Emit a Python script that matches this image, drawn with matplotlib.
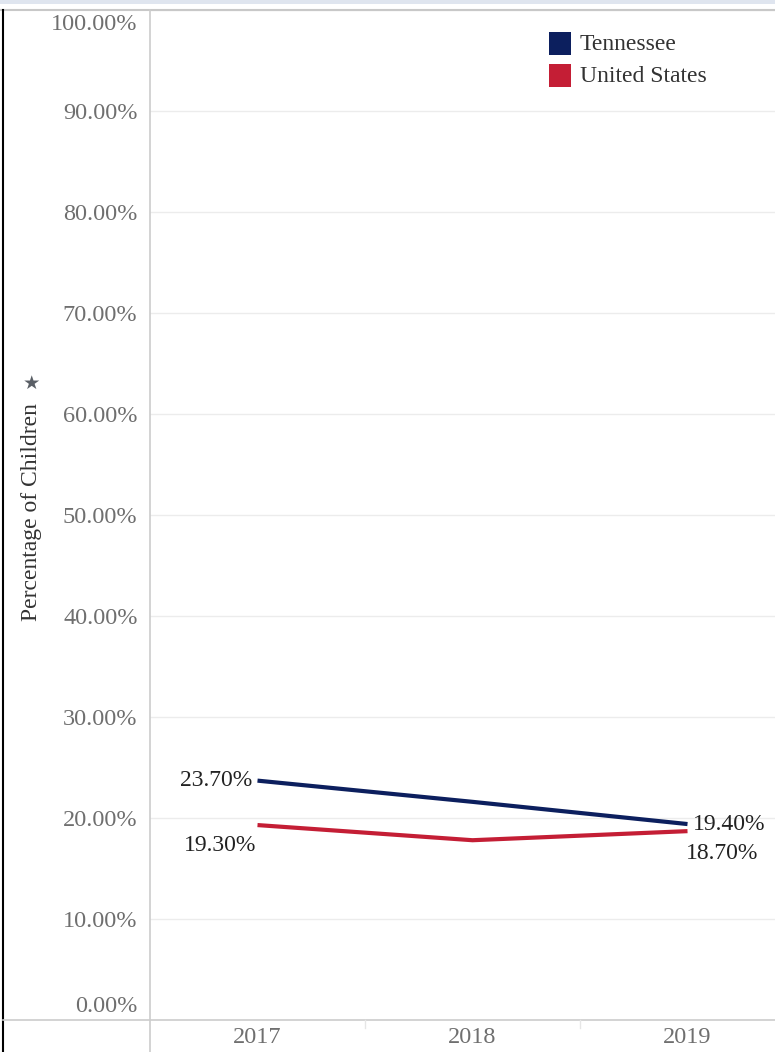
import matplotlib.pyplot as plt
from matplotlib.lines import Line2D
from matplotlib.patches import Rectangle
from matplotlib.transforms import ScaledTranslation
import numpy as np

years = ["2017", "2018", "2019"]
tennessee = [23.7, 21.6, 19.4]
united_states = [19.3, 17.8, 18.7]
ytick_vals = [0, 10, 20, 30, 40, 50, 60, 70, 80, 90, 100]

navy = "#0c1f5e"
red = "#c41e35"
grey_txt = "#6f6f6f"

plt.rcParams['font.family'] = ['Liberation Serif', 'DejaVu Serif']

W, H = 775, 1052
fig = plt.figure(figsize=(W / 100, H / 100), dpi=100)

def fx(px):
    return px / W

def fy(py):
    return 1 - py / H

ax = fig.add_axes([fx(150), fy(1020), fx(775) - fx(150), fy(10) - fy(1020)])
x = np.arange(len(years))
# band width is 215px, axis is cropped at the right
ax.set_xlim(-0.5, -0.5 + (775 - 150) / 215)
ax.set_ylim(0, 100)

for v in ytick_vals[1:]:
    ax.axhline(v, color="#ececec", lw=1, zorder=0)

ax.plot(x, tennessee, color=navy, lw=3.0, solid_capstyle="butt", zorder=3)
ax.plot(x, united_states, color=red, lw=3.0, solid_capstyle="butt", zorder=3)

for s in ax.spines.values():
    s.set_visible(False)

ax.set_yticks(ytick_vals)
ax.set_yticklabels(["%.2f%%" % v for v in ytick_vals], fontsize=17.5, color=grey_txt)
ax.tick_params(axis="y", length=0, pad=9)
labs = ax.get_yticklabels()
labs[0].set_transform(labs[0].get_transform() + ScaledTranslation(0, 16 / 100, fig.dpi_scale_trans))
labs[-1].set_transform(labs[-1].get_transform() + ScaledTranslation(0, -12 / 100, fig.dpi_scale_trans))

ax.set_xticks(x)
ax.set_xticklabels(years, fontsize=17.5, color=grey_txt)
ax.tick_params(axis="x", length=0, pad=5)

# value labels
fs = 17
ax.annotate("%.2f%%" % tennessee[0], (x[0], tennessee[0]), xytext=(-4, 0),
            textcoords="offset points", ha="right", va="center", fontsize=fs, color="#222222")
ax.annotate("%.2f%%" % united_states[0], (x[0], united_states[0]), xytext=(-1, -15),
            textcoords="offset points", ha="right", va="center", fontsize=fs, color="#222222")
ax.annotate("%.2f%%" % tennessee[-1], (x[-1], tennessee[-1]), xytext=(4, 0),
            textcoords="offset points", ha="left", va="center", fontsize=fs, color="#222222")
ax.annotate("%.2f%%" % united_states[-1], (x[-1], united_states[-1]), xytext=(-1, -16),
            textcoords="offset points", ha="left", va="center", fontsize=fs, color="#222222")

# frame lines
fig.add_artist(Rectangle((0, fy(4)), 1, fy(0) - fy(4), transform=fig.transFigure,
                         color="#dfe5ef", lw=0))
fig.add_artist(Line2D([0, 1], [fy(9.5), fy(9.5)], transform=fig.transFigure, color="#c8c8c8", lw=1.5))
fig.add_artist(Line2D([fx(2.5), fx(2.5)], [0, fy(10)], transform=fig.transFigure, color="black", lw=1.5))
fig.add_artist(Line2D([fx(150), fx(150)], [0, fy(10)], transform=fig.transFigure, color="#cccccc", lw=1.2))
fig.add_artist(Line2D([fx(3), 1], [fy(1020), fy(1020)], transform=fig.transFigure, color="#cccccc", lw=1.2))
for bx in [365, 580]:
    fig.add_artist(Line2D([fx(bx), fx(bx)], [fy(1020), fy(1028)], transform=fig.transFigure,
                          color="#e6e6e6", lw=1))

# y label with pin
fig.text(fx(32), fy(512), "Percentage of Children", rotation=90, ha="center", va="center",
         fontsize=17, color="#333333")
fig.text(fx(31), fy(383), "\u2605", rotation=0, ha="center", va="center",
         fontsize=14, color="#5a5f66", family=["DejaVu Sans"])

# legend
for i, (name, c) in enumerate([("Tennessee", navy), ("United States", red)]):
    top = 32 + i * 32
    fig.add_artist(Rectangle((fx(549), fy(top + 23)), fx(22), fy(top) - fy(top + 23),
                             transform=fig.transFigure, color=c, lw=0))
    fig.text(fx(580), fy(top + 12), name, ha="left", va="center", fontsize=17, color="#333333")

fig.savefig("out.png", dpi=100)
